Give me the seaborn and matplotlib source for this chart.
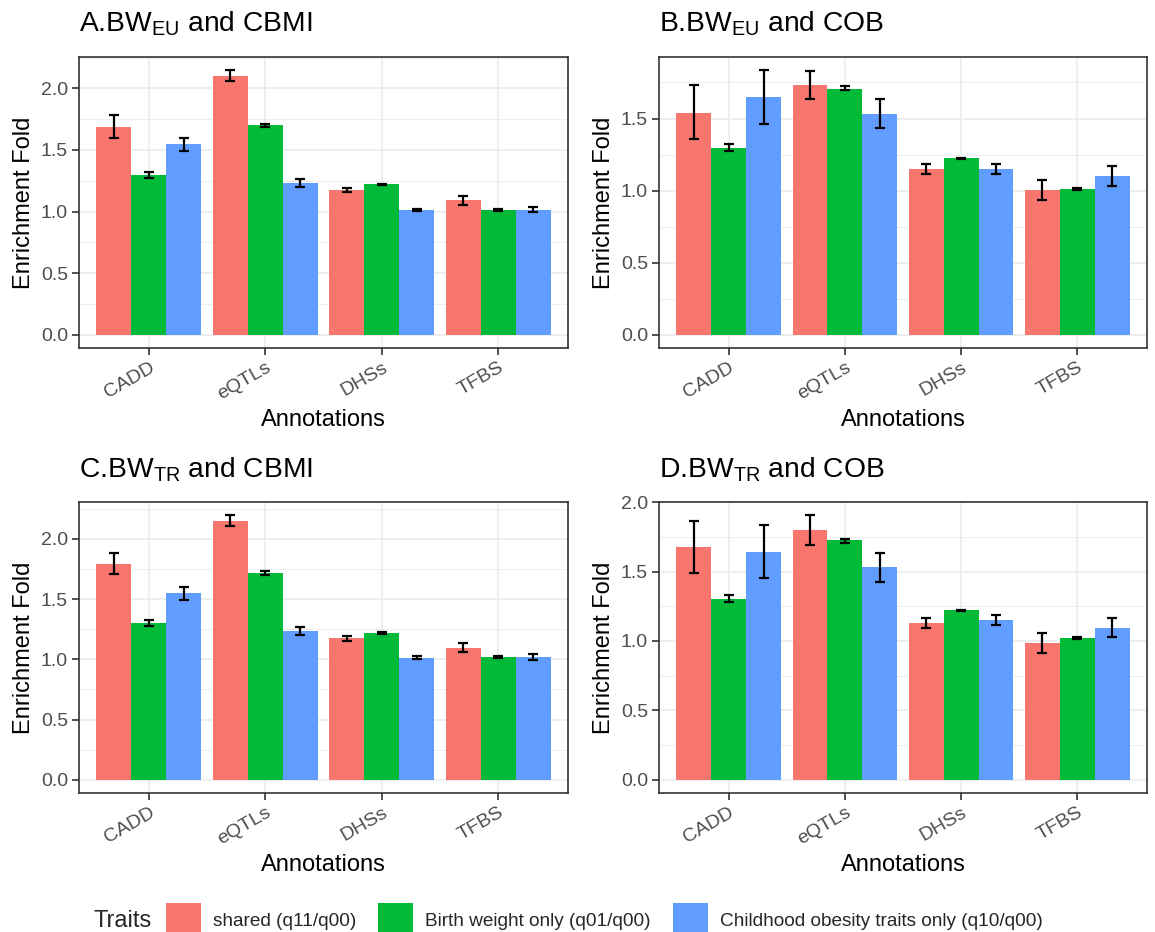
"""Enrichment fold of functional annotations, four panels (ggplot-like look)."""
import matplotlib

matplotlib.use("Agg")

import matplotlib.pyplot as plt  # noqa: E402
import pandas as pd  # noqa: E402
import seaborn as sns  # noqa: E402
from matplotlib.patches import Patch  # noqa: E402
from matplotlib.ticker import MultipleLocator  # noqa: E402

sns.set_theme(style="white")
plt.rcParams["font.family"] = ["Liberation Sans", "DejaVu Sans"]
plt.rcParams["mathtext.fontset"] = "custom"
plt.rcParams["mathtext.rm"] = "Liberation Sans"
plt.rcParams["mathtext.it"] = "Liberation Sans:italic"

ANNOTATIONS = ["CADD", "eQTLs", "DHSs", "TFBS"]
TRAITS = ["shared (q11/q00)", "Birth weight only (q01/q00)",
          "Childhood obesity traits only (q10/q00)"]
COLORS = ["#F8766D", "#00BA38", "#619CFF"]

TITLES = [r"A.BW$_{\mathrm{EU}}$ and CBMI", r"B.BW$_{\mathrm{EU}}$ and COB",
          r"C.BW$_{\mathrm{TR}}$ and CBMI", r"D.BW$_{\mathrm{TR}}$ and COB"]

# one inner list per trait, values follow ANNOTATIONS
A_FOLD = [[1.69, 2.10, 1.175, 1.09], [1.30, 1.70, 1.221, 1.012], [1.545, 1.232, 1.012, 1.015]]
A_LOW = [[1.60, 2.06, 1.156, 1.05], [1.275, 1.69, 1.215, 1.005], [1.495, 1.20, 1.005, 0.996]]
A_HIGH = [[1.78, 2.147, 1.194, 1.129], [1.325, 1.71, 1.227, 1.019], [1.60, 1.265, 1.019, 1.037]]

B_FOLD = [[1.54, 1.731, 1.151, 1.002], [1.297, 1.708, 1.225, 1.011], [1.647, 1.534, 1.151, 1.10]]
B_LOW = [[1.355, 1.633, 1.116, 0.933], [1.274, 1.696, 1.221, 1.005], [1.459, 1.432, 1.116, 1.030]]
B_HIGH = [[1.733, 1.833, 1.188, 1.074], [1.325, 1.724, 1.229, 1.018], [1.835, 1.638, 1.188, 1.169]]

C_FOLD = [[1.79, 2.149, 1.174, 1.097], [1.298, 1.713, 1.218, 1.019], [1.547, 1.232, 1.014, 1.019]]
C_LOW = [[1.704, 2.105, 1.155, 1.061], [1.276, 1.699, 1.212, 1.012], [1.489, 1.199, 1.003, 0.997]]
C_HIGH = [[1.881, 2.196, 1.196, 1.138], [1.326, 1.729, 1.224, 1.026], [1.602, 1.268, 1.025, 1.041]]

D_FOLD = [[1.676, 1.801, 1.131, 0.984], [1.304, 1.724, 1.220, 1.020], [1.642, 1.532, 1.148, 1.095]]
D_LOW = [[1.493, 1.695, 1.092, 0.915], [1.280, 1.709, 1.215, 1.013], [1.457, 1.426, 1.112, 1.032]]
D_HIGH = [[1.866, 1.906, 1.169, 1.059], [1.330, 1.738, 1.225, 1.028], [1.832, 1.637, 1.188, 1.167]]

PANELS = [(A_FOLD, A_LOW, A_HIGH), (B_FOLD, B_LOW, B_HIGH),
          (C_FOLD, C_LOW, C_HIGH), (D_FOLD, D_LOW, D_HIGH)]

W, H = 1155, 932
# axes boxes in pixels: left, top, right, bottom
BOXES = [(79, 57, 568, 348), (659, 57, 1147, 348),
         (79, 502, 568, 793), (659, 502, 1147, 793)]

GRID = "#EBEBEB"
DARK = "#333333"
TICKC = "#4D4D4D"


def to_frame(fold, low, high):
    rows = []
    for t, trait in enumerate(TRAITS):
        for a, ann in enumerate(ANNOTATIONS):
            rows.append({"annotation": ann, "trait": trait, "fold": fold[t][a],
                         "low": low[t][a], "high": high[t][a]})
    return pd.DataFrame(rows)


def draw_panel(ax, df, title):
    sns.barplot(data=df, x="annotation", y="fold", hue="trait",
                order=ANNOTATIONS, hue_order=TRAITS, palette=COLORS,
                width=0.9, saturation=1, errorbar=None, linewidth=0,
                legend=False, ax=ax, zorder=2)
    # error bars at the bar centres seaborn computed
    for container, trait in zip(ax.containers, TRAITS):
        sub = df[df["trait"] == trait].set_index("annotation").loc[ANNOTATIONS]
        xs = [b.get_x() + b.get_width() / 2 for b in container]
        ax.errorbar(xs, sub["fold"],
                    yerr=[sub["fold"] - sub["low"], sub["high"] - sub["fold"]],
                    fmt="none", ecolor="black", elinewidth=1.6, capsize=3.8,
                    capthick=1.6, zorder=3)

    top = df["high"].max()
    ax.set_ylim(-0.05 * top, 1.05 * top)
    ax.set_xlim(-0.6, 3.6)
    ax.yaxis.set_major_locator(MultipleLocator(0.5))
    ax.yaxis.set_minor_locator(MultipleLocator(0.25))
    ax.yaxis.set_major_formatter(matplotlib.ticker.FormatStrFormatter("%.1f"))
    ax.set_axisbelow(True)
    ax.grid(which="major", color=GRID, linewidth=1.2)
    ax.grid(which="minor", axis="y", color=GRID, linewidth=0.6)
    for s in ax.spines.values():
        s.set_color(DARK)
        s.set_linewidth(1.2)
    ax.tick_params(which="major", direction="out", length=5, width=1.2,
                   color=DARK, labelcolor=TICKC, labelsize=14, pad=3,
                   left=True, bottom=True)
    ax.tick_params(which="minor", length=0)
    for lab in ax.get_xticklabels():
        lab.set_rotation(30)
        lab.set_ha("right")
        lab.set_rotation_mode("anchor")
    ax.set_xlabel("Annotations", fontsize=17, color="black", labelpad=4)
    ax.set_ylabel("Enrichment Fold", fontsize=17, color="black", labelpad=4)
    ax.set_title(title, loc="left", fontsize=20.3, color="black", pad=18)


fig = plt.figure(figsize=(W / 100, H / 100), dpi=100)
for (fold, low, high), box, title in zip(PANELS, BOXES, TITLES):
    l, t, r, b = box
    ax = fig.add_axes([l / W, 1 - b / H, (r - l) / W, (b - t) / H])
    draw_panel(ax, to_frame(fold, low, high), title)

handles = [Patch(facecolor=c, edgecolor="none", label=lab)
           for c, lab in zip(COLORS, TRAITS)]
fig.text(93 / W, 1 - 921 / H, "Traits", fontsize=17, ha="left", va="center")
fig.legend(handles=handles, loc="upper left",
           bbox_to_anchor=(166 / W, 1 - 903 / H), ncol=3, frameon=False,
           fontsize=13.7, handlelength=1.85, handleheight=2.4,
           handletextpad=0.62, columnspacing=1.15, borderpad=0,
           borderaxespad=0)

fig.savefig("out.png", dpi=100)
